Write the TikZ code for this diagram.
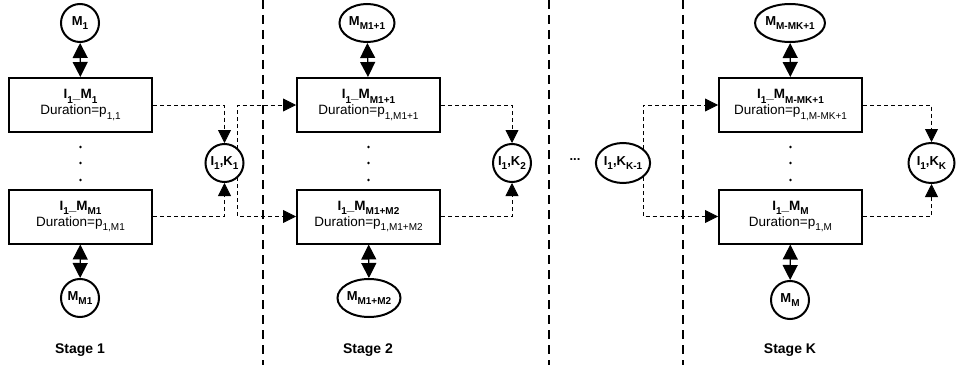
\documentclass[tikz,border=0pt]{standalone}
\usepackage{fontspec}
\setmainfont{Liberation Sans}
\usetikzlibrary{positioning,calc,arrows.meta,shapes.geometric,backgrounds}

\newcommand{\lo}[1]{\raisebox{-0.3em}{\fontsize{10}{10}\selectfont #1}}
\newcommand{\job}[2]{\textbf{\fontsize{13.5}{15}\selectfont I\lo{1}\_M\lo{#1}}\\Duration=p\lo{1,#2}}

\begin{document}
\begin{tikzpicture}[
  x = 1pt, y = 1pt,
  box/.style = {draw, line width=2pt, minimum width=143pt, minimum height=54pt,
    align=center, fill=white, font=\fontsize{13.5}{16}\selectfont},
  mach/.style = {draw, circle, line width=2pt, minimum size=38pt, inner sep=0pt,
    fill=white, font=\bfseries\fontsize{13}{15}\selectfont},
  wide/.style = {mach, ellipse, minimum height=38pt},
  dbl/.style = {line width=1.2pt,
    {Triangle[length=15pt,width=15pt]}-{Triangle[length=15pt,width=15pt]}},
  flow/.style = {line width=0.8pt, dash pattern=on 4pt off 3pt,
    -{Triangle[length=13pt,width=13pt]}},
  sep/.style = {line width=2.2pt, dash pattern=on 9pt off 6pt},
  stage/.style = {font=\bfseries\fontsize{14}{16}\selectfont},
  ]
  \useasboundingbox (0,0) rectangle (956,-369);

  % stage 1
  \node[box] (b11) at (80.5,-105) {\job{1}{1}};
  \node[box] (b12) at (80.5,-216.5) {\job{M1}{M1}};
  \node[mach] (m11) at (80,-23) {M\lo{1}};
  \node[mach] (m12) at (80,-298) {M\lo{M1}};
  \node[mach] (k1) at (224.5,-163) {I\lo{1},K\lo{1}};
  \node[stage] (s1) at (80,-350) {Stage 1};

  % stage 2
  \node[box] (b21) at (368.5,-105) {\job{M1+1}{M1+1}};
  \node[box] (b22) at (368.5,-216.5) {\job{M1+M2}{M1+M2}};
  \node[wide, minimum width=55pt] (m21) at (367,-23) {M\lo{M1+1}};
  \node[wide, minimum width=63pt] (m22) at (369,-298) {M\lo{M1+M2}};
  \node[mach] (k2) at (512,-163) {I\lo{1},K\lo{2}};
  \node[stage] (s2) at (368,-350) {Stage 2};

  \node[font=\bfseries\fontsize{13}{15}\selectfont] (gap) at (575,-160) {...};

  % stage K
  \node[wide, minimum width=51pt, minimum height=40pt] (kk1) at (623,-163) {I\lo{1},K\lo{K-1}};
  \node[box] (b31) at (790.5,-105) {\job{M-MK+1}{M-MK+1}};
  \node[box] (b32) at (790.5,-216.5) {\job{M}{M}};
  \node[wide, minimum width=63pt] (m31) at (790,-23) {M\lo{M-MK+1}};
  \node[mach] (m32) at (790,-300) {M\lo{M}};
  \node[wide, minimum width=46pt, minimum height=40pt] (kk) at (931.5,-163) {I\lo{1},K\lo{K}};
  \node[stage] (s3) at (790,-350) {Stage K};

  \foreach \x in {80.5,368.5,790.5}
    \foreach \y in {147,163,180}
      \fill (\x,-\y) circle (1.4);

  \draw[dbl] (m11) -- (b11);
  \draw[dbl] (b12) -- (m12);
  \draw[dbl] (m21) -- (b21);
  \draw[dbl] (b22) -- (m22);
  \draw[dbl] (m31) -- (b31);
  \draw[dbl] (b32) -- (m32);

  \begin{scope}[on background layer]
    \draw[flow] (b11) -| (k1);
    \draw[flow] (b12) -| (k1);
    \draw[flow] ([xshift=-7pt]k1.east) |- (b21);
    \draw[flow] ([xshift=-7pt]k1.east) |- (b22);
    \draw[flow] (b21) -| (k2);
    \draw[flow] (b22) -| (k2);
    \draw[flow] ([xshift=-8pt]kk1.east) |- (b31);
    \draw[flow] ([xshift=-8pt]kk1.east) |- (b32);
    \draw[flow] (b31) -| (kk);
    \draw[flow] (b32) -| (kk);

    \draw[sep] (263,0) -- (263,-365);
    \draw[sep] (549,0) -- (549,-365);
    \draw[sep] (683,0) -- (683,-365);
  \end{scope}
\end{tikzpicture}
\end{document}
